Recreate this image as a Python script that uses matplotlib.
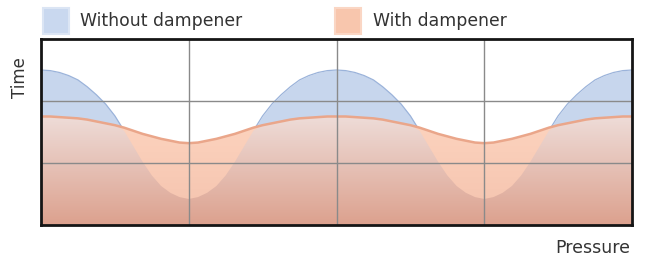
import numpy as np
import matplotlib
matplotlib.use('Agg')
import matplotlib.pyplot as plt
from matplotlib.colors import LinearSegmentedColormap
from matplotlib.patches import Rectangle

# pressure positions (grid lines at 1, 2, 3)
pressure = np.arange(0, 4.0001, 0.0625)

# time without dampener
without_damp = [
    2.50, 2.49, 2.46, 2.41, 2.34, 2.23, 2.10, 1.95, 1.76, 1.52, 1.27, 1.02, 0.80, 0.63, 0.52, 0.45,
    0.42, 0.45, 0.52, 0.63, 0.80, 1.02, 1.27, 1.52, 1.76, 1.95, 2.10, 2.23, 2.34, 2.41, 2.46, 2.49,
    2.50, 2.49, 2.46, 2.41, 2.34, 2.23, 2.10, 1.95, 1.76, 1.52, 1.27, 1.02, 0.80, 0.63, 0.52, 0.45,
    0.42, 0.45, 0.52, 0.63, 0.80, 1.02, 1.27, 1.52, 1.76, 1.95, 2.10, 2.23, 2.34, 2.41, 2.46, 2.49,
    2.50,
]

# time with dampener
with_damp = [
    1.75, 1.75, 1.74, 1.73, 1.72, 1.70, 1.67, 1.64, 1.61, 1.57, 1.52, 1.47, 1.43, 1.39, 1.36, 1.33,
    1.32, 1.33, 1.36, 1.39, 1.43, 1.47, 1.52, 1.57, 1.61, 1.64, 1.67, 1.70, 1.72, 1.73, 1.74, 1.75,
    1.75, 1.75, 1.74, 1.73, 1.72, 1.70, 1.67, 1.64, 1.61, 1.57, 1.52, 1.47, 1.43, 1.39, 1.36, 1.33,
    1.32, 1.33, 1.36, 1.39, 1.43, 1.47, 1.52, 1.57, 1.61, 1.64, 1.67, 1.70, 1.72, 1.73, 1.74, 1.75,
    1.75,
]

labels = ['Without dampener', 'With dampener']
x_label = 'Pressure'
y_label = 'Time'

blue = np.array(without_damp)
orange = np.array(with_damp)
both = np.minimum(blue, orange)

W, H = 646, 267
fig = plt.figure(figsize=(W / 100, H / 100), dpi=100)
ax = fig.add_axes([41 / W, (H - 225) / H, (632 - 41) / W, (225 - 39) / H])

# light blue area for the undamped curve
ax.fill_between(pressure, 0, blue, color='#c7d6ed', linewidth=0, zorder=1)
ax.plot(pressure, blue, color='#9bb3da', lw=0.9, zorder=1.5)

# peach gradient under the damped curve
peach = LinearSegmentedColormap.from_list('peach', ['#f4c2ad', '#fdd4bf'])
grad = np.linspace(0, 1, 256).reshape(-1, 1)
im1 = ax.imshow(grad, cmap=peach, aspect='auto', origin='lower',
                extent=[0, 4, 0, orange.max()], zorder=2)
poly1 = ax.fill_between(pressure, 0, orange, facecolor='none', edgecolor='none')
im1.set_clip_path(poly1.get_paths()[0], ax.transData)

# salmon gradient where both areas overlap
salmon = LinearSegmentedColormap.from_list('salmon', ['#dca18e', '#eedcd8'])
im2 = ax.imshow(grad, cmap=salmon, aspect='auto', origin='lower',
                extent=[0, 4, 0, orange.max()], zorder=3)
poly2 = ax.fill_between(pressure, 0, both, facecolor='none', edgecolor='none')
im2.set_clip_path(poly2.get_paths()[0], ax.transData)

ax.plot(pressure, orange, color='#eaa68a', lw=1.8, zorder=4)

ax.set_xlim(0, 4)
ax.set_ylim(0, 3)
ax.set_xticks([1, 2, 3])
ax.set_yticks([1, 2])
ax.tick_params(length=0, labelbottom=False, labelleft=False)
ax.grid(True, color='#8a8a8a', lw=1.0)
ax.xaxis.set_zorder(5)
ax.yaxis.set_zorder(5)
for s in ax.spines.values():
    s.set_color('#151515')
    s.set_linewidth(2.0)
    s.set_zorder(6)

# legend swatches
fig.patches.append(Rectangle((43 / W, (H - 34) / H), 26 / W, 26 / H, transform=fig.transFigure,
                             facecolor='#c9d8ef', edgecolor='#dbe5f4', lw=1.5))
fig.patches.append(Rectangle((335 / W, (H - 34) / H), 26 / W, 26 / H, transform=fig.transFigure,
                             facecolor='#f8c6ad', edgecolor='#fad6c4', lw=1.5))
fig.text(80 / W, (H - 21) / H, labels[0], fontsize=12.4, color='#333333', va='center')
fig.text(373 / W, (H - 21) / H, labels[1], fontsize=12.4, color='#333333', va='center')

fig.text(20 / W, (H - 78) / H, y_label, fontsize=12, color='#333333', rotation=90,
         ha='center', va='center')
fig.text(630 / W, (H - 248) / H, x_label, fontsize=12.5, color='#333333', ha='right', va='center')

fig.savefig('out.png', dpi=100)
